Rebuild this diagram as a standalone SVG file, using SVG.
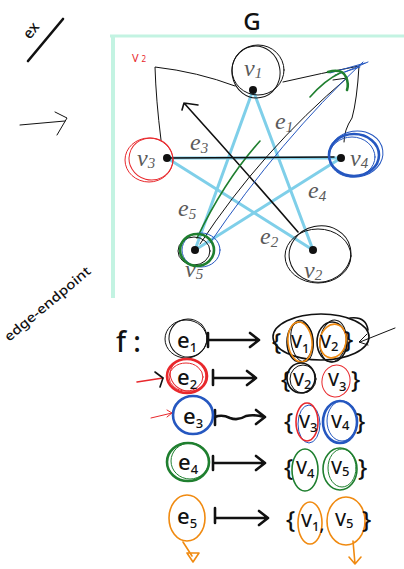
<svg xmlns="http://www.w3.org/2000/svg" width="404" height="569" viewBox="0 0 404 569">
  <style>
    .frame { stroke: #c3f3e2; fill: none; }
    .edge { stroke: #7fcfe9; stroke-width: 3; stroke-linecap: round; }
    .vlab { font-family: "Liberation Serif", serif; font-style: italic; fill: #5a5a5a; font-size: 24px; }
    .sub { font-size: 15px; }
    .ink { fill: none; stroke: #111; stroke-linecap: round; stroke-linejoin: round; }
    .thin { stroke-width: 1; }
    .med { stroke-width: 1.6; }
    .bold { stroke-width: 2.6; }
    .red { stroke: #e8282c; }
    .blue { stroke: #2557c0; }
    .green { stroke: #1f7f2f; }
    .orange { stroke: #f08a10; }
    .hand { font-family: "Noto Sans", "DejaVu Sans", sans-serif; fill: #111; font-weight: 500; }
  </style>

  <!-- pasted figure frame -->
  <path class="frame" d="M110,36 L404,36" stroke-width="3"/>
  <path class="frame" d="M113,36 L113,298" stroke-width="4"/>

  <!-- side notes -->
  <g id="note-ex">
    <text class="hand" x="0" y="0" font-size="15" font-weight="400" transform="translate(30,40) rotate(-52)">ex</text>
    <path class="ink bold" d="M28,61 L63,19"/>
  </g>
  <g id="note-arrow">
    <path class="ink thin" d="M20,125 L65,121 M55,112 L67,118 L57,135"/>
  </g>
  <g id="note-edge-endpoint">
    <text class="hand" x="0" y="0" font-size="13" font-weight="400" textLength="108" lengthAdjust="spacingAndGlyphs" transform="translate(9,342) rotate(-40)">edge-endpoint</text>
  </g>
  <g id="title">
    <text class="hand" x="252" y="30" font-size="24" text-anchor="middle" font-weight="400">G</text>
  </g>

  <!-- graph edges -->
  <g id="edges">
    <line class="edge" x1="253" y1="90" x2="195" y2="250"/>
    <line class="edge" x1="253" y1="90" x2="313" y2="250"/>
    <line class="edge" x1="167" y1="158" x2="341" y2="158"/>
    <line class="edge" x1="167" y1="158" x2="313" y2="250"/>
    <line class="edge" x1="341" y1="158" x2="195" y2="250"/>
  </g>

  <!-- edge labels -->
  <g id="edge-labels">
    <text class="vlab" x="275" y="129">e<tspan class="sub" dy="3">1</tspan></text>
    <text class="vlab" x="190" y="150">e<tspan class="sub" dy="3">3</tspan></text>
    <text class="vlab" x="308" y="198">e<tspan class="sub" dy="3">4</tspan></text>
    <text class="vlab" x="178" y="216">e<tspan class="sub" dy="3">5</tspan></text>
    <text class="vlab" x="260" y="244">e<tspan class="sub" dy="3">2</tspan></text>
  </g>

  <!-- hand-drawn overlays on the graph -->
  <g id="overlay">
    <path class="ink thin" stroke="#555" d="M161,140 Q156,100 155,67 Q198,72 235,86 M283,82 Q322,73 359,66 Q357,100 352,118 Q344,130 344,142"/>
    <text x="132" y="62" font-family="Noto Sans, sans-serif" font-size="11" fill="#e8282c">V<tspan font-size="8" dx="3">2</tspan></text>
    <path class="ink med" d="M298,232 Q240,165 184,103 M184,103 L198,105 M184,103 L182,110"/>
    <path class="ink thin" d="M200,244 Q262,150 347,78 M333,80 L347,78"/>
    <path class="ink thin blue" d="M210,243 Q280,140 363,62 M330,73 L365,63 M335,75 L360,67 M345,72 L368,62"/>
    <path class="ink med green" d="M197,238 Q225,180 260,141 M310,97 Q325,80 340,73"/>
    <path class="ink bold green" d="M328,72 Q342,68 346,77 Q349,84 347,90"/>
    <path class="ink med" d="M167,158 L334,157"/>
  </g>

  <!-- vertices -->
  <g id="v1">
    <ellipse class="ink thin" cx="258" cy="70" rx="26" ry="25"/>
    <ellipse class="ink thin" cx="256" cy="72" rx="24" ry="26" transform="rotate(-10 256 72)"/>
    <circle cx="253" cy="90" r="4" fill="#111"/>
    <text class="vlab" x="244" y="76">v<tspan class="sub" dy="2">1</tspan></text>
  </g>
  <g id="v3">
    <ellipse class="ink thin red" cx="149" cy="160" rx="24" ry="22"/>
    <ellipse class="ink thin red" cx="151" cy="159" rx="22" ry="21" transform="rotate(15 151 159)"/>
    <circle cx="167" cy="158" r="4" fill="#111"/>
    <text class="vlab" x="137" y="166">v<tspan class="sub" dy="2">3</tspan></text>
  </g>
  <g id="v4">
    <ellipse class="ink bold blue" cx="354" cy="155" rx="25" ry="21"/>
    <ellipse class="ink thin blue" cx="356" cy="154" rx="27" ry="23" transform="rotate(-8 356 154)"/>
    <ellipse class="ink thin blue" cx="352" cy="157" rx="23" ry="20"/>
    <circle cx="341" cy="158" r="4" fill="#111"/>
    <text class="vlab" x="350" y="166">v<tspan class="sub" dy="2">4</tspan></text>
  </g>
  <g id="v5">
    <text class="vlab" x="185" y="277">v<tspan class="sub" dy="2">5</tspan></text>
    <circle cx="195" cy="250" r="4" fill="#111"/>
    <ellipse class="ink thin blue" cx="201" cy="250" rx="19" ry="17"/>
    <ellipse class="ink thin" cx="194" cy="251" rx="16" ry="14"/>
    <ellipse class="ink bold green" cx="197" cy="250" rx="17" ry="16"/>
  </g>
  <g id="v2">
    <ellipse class="ink thin" cx="318" cy="256" rx="33" ry="27"/>
    <ellipse class="ink thin" cx="320" cy="254" rx="31" ry="28" transform="rotate(-12 320 254)"/>
    <circle cx="313" cy="250" r="4" fill="#111"/>
    <text class="vlab" x="304" y="278">v<tspan class="sub" dy="2">2</tspan></text>
  </g>

  <!-- edge-endpoint function f -->
  <g id="f-label">
    <text class="hand" x="116" y="352" font-size="28" font-weight="400">f :</text>
  </g>

  <g id="connectors">
    <path class="ink bold" d="M208,333 L208,347 M208,340 L258,340 M250,333 L259,340 L250,347"/>
    <path class="ink bold" d="M213,370 L213,385 M213,378 L255,378 M247,371 L256,378 L247,385"/>
    <path class="ink bold" d="M215,410 L215,425 M215,417 Q222,414 230,418 Q238,421 246,416 Q254,414 264,417 M256,410 L265,417 L256,424"/>
    <path class="ink bold" d="M213,456 L213,470 M213,463 L264,463 M256,456 L265,463 L256,470"/>
    <path class="ink bold" d="M215,508 L215,523 M215,518 L267,518 M259,511 L268,518 L259,525"/>
    <path class="ink thin" d="M395,328 L360,342 M367,334 L359,342 L368,345"/>
    <path class="ink med red" d="M137,382 L163,378"/>
    <path class="ink med" d="M155,372 L163,378 L160,387"/>
    <path class="ink thin red" d="M151,418 L172,413 M167,410 L172,413 L167,417"/>
    <path class="ink med orange" d="M183,542 L192,556 M187,553 L199,553 L193,562 Z"/>
    <path class="ink med orange" d="M353,541 L355,564 M349,557 L355,564 L361,557"/>
  </g>

  <g id="e1">
    <ellipse class="ink thin" cx="186" cy="339" rx="21" ry="19"/>
    <ellipse class="ink thin" cx="188" cy="338" rx="19" ry="19" transform="rotate(20 188 338)"/>
    <text class="hand" x="177" y="348" font-size="22">e<tspan font-size="13" dy="4">1</tspan></text>
  </g>
  <g id="e2">
    <ellipse class="ink bold red" cx="187" cy="376" rx="20" ry="17"/>
    <ellipse class="ink thin red" cx="188" cy="375" rx="18" ry="16" transform="rotate(20 188 375)"/>
    <ellipse class="ink thin red" cx="186" cy="377" rx="17" ry="14"/>
    <text class="hand" x="177" y="385" font-size="22">e<tspan font-size="13" dy="4">2</tspan></text>
  </g>
  <g id="e3">
    <ellipse class="ink bold blue" cx="193" cy="415" rx="20" ry="19"/>
    <text class="hand" x="183" y="424" font-size="22">e<tspan font-size="13" dy="4">3</tspan></text>
  </g>
  <g id="e4">
    <ellipse class="ink bold green" cx="188" cy="462" rx="21" ry="19"/>
    <ellipse class="ink thin green" cx="190" cy="461" rx="19" ry="18"/>
    <text class="hand" x="178" y="470" font-size="22">e<tspan font-size="13" dy="4">4</tspan></text>
  </g>
  <g id="e5">
    <ellipse class="ink med orange" cx="187" cy="518" rx="18" ry="23"/>
    <text class="hand" x="177" y="524" font-size="22">e<tspan font-size="13" dy="4">5</tspan></text>
  </g>

  <g id="pair1">
    <ellipse class="ink med" cx="321" cy="337" rx="48" ry="23"/>
    <path class="ink med" d="M350,318 Q366,316 368,330"/>
    <ellipse class="ink med" cx="300" cy="342" rx="13" ry="20"/>
    <ellipse class="ink thin" cx="302" cy="341" rx="11" ry="21" transform="rotate(-8 302 341)"/>
    <ellipse class="ink med" cx="332" cy="342" rx="15" ry="20"/>
    <ellipse class="ink thin" cx="333" cy="341" rx="13" ry="21" transform="rotate(8 333 341)"/>
    <ellipse class="ink med orange" cx="300" cy="342" rx="12" ry="20" transform="rotate(-6 300 342)"/>
    <ellipse class="ink med orange" cx="333" cy="341" rx="13" ry="17" transform="rotate(12 333 341)"/>
    <text class="hand" x="272" y="350" font-size="24">{</text>
    <text class="hand" x="291" y="348" font-size="18">V<tspan font-size="13" dy="5">1</tspan></text>
    <text class="hand" x="320" y="348" font-size="18">V<tspan font-size="13" dy="3">2</tspan></text>
    <text class="hand" x="344" y="348" font-size="24">}</text>
  </g>
  <g id="pair2">
    <ellipse class="ink med" cx="301" cy="378" rx="14" ry="15"/>
    <ellipse class="ink thin" cx="303" cy="379" rx="13" ry="14"/>
    <ellipse class="ink thin red" cx="336" cy="381" rx="14" ry="16" transform="rotate(10 336 381)"/>
    <text class="hand" x="281" y="388" font-size="24">{</text>
    <text class="hand" x="293" y="386" font-size="18">V<tspan font-size="13" dy="3">2</tspan></text>
    <text class="hand" x="328" y="386" font-size="18">V<tspan font-size="13" dy="5">3</tspan></text>
    <text class="hand" x="351" y="388" font-size="24">}</text>
  </g>
  <g id="pair3">
    <ellipse class="ink thin blue" cx="309" cy="424" rx="11" ry="19"/>
    <ellipse class="ink med red" cx="307" cy="422" rx="11" ry="19"/>
    <ellipse class="ink bold blue" cx="340" cy="422" rx="17" ry="21"/>
    <ellipse class="ink thin blue" cx="342" cy="421" rx="15" ry="20"/>
    <text class="hand" x="284" y="430" font-size="24">{</text>
    <text class="hand" x="299" y="428" font-size="18">V<tspan font-size="13" dy="4">3</tspan></text>
    <text class="hand" x="331" y="428" font-size="18">V<tspan font-size="13" dy="2">4</tspan></text>
    <text class="hand" x="356" y="430" font-size="24">}</text>
  </g>
  <g id="pair4">
    <ellipse class="ink med green" cx="305" cy="470" rx="13" ry="21"/>
    <ellipse class="ink med green" cx="340" cy="469" rx="17" ry="21"/>
    <ellipse class="ink thin green" cx="342" cy="468" rx="14" ry="19"/>
    <text class="hand" x="284" y="476" font-size="24">{</text>
    <text class="hand" x="296" y="474" font-size="18">V<tspan font-size="13" dy="4">4</tspan></text>
    <text class="hand" x="331" y="474" font-size="18">V<tspan font-size="13" dy="2">5</tspan></text>
    <text class="hand" x="358" y="476" font-size="24">}</text>
  </g>
  <g id="pair5">
    <ellipse class="ink med orange" cx="310" cy="523" rx="12" ry="21"/>
    <ellipse class="ink med orange" cx="346" cy="521" rx="19" ry="24"/>
    <text class="hand" x="286" y="528" font-size="24">{</text>
    <text class="hand" x="301" y="527" font-size="18">V<tspan font-size="13" dy="4">1</tspan>,</text>
    <text class="hand" x="335" y="526" font-size="18">V<tspan font-size="13" dy="2">5</tspan></text>
    <text class="hand" x="362" y="528" font-size="24">}</text>
  </g>
</svg>
